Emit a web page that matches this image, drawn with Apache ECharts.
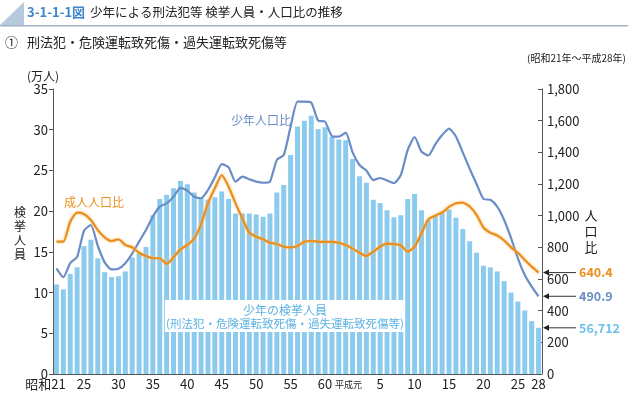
<!DOCTYPE html>
<html>
<head>
<meta charset="utf-8">
<script src="https://cdn.jsdelivr.net/npm/echarts@6/dist/echarts.min.js"></script>
<style>
html, body { margin: 0; padding: 0; background: #fff; }
#main { width: 628px; height: 396px; }
</style>
</head>
<body>
<div id="main"></div>
<script>
// 年次（昭和21年～平成28年）
const categories = [
  '昭和21','昭和22','昭和23','昭和24','昭和25','昭和26','昭和27','昭和28','昭和29','昭和30',
  '昭和31','昭和32','昭和33','昭和34','昭和35','昭和36','昭和37','昭和38','昭和39','昭和40',
  '昭和41','昭和42','昭和43','昭和44','昭和45','昭和46','昭和47','昭和48','昭和49','昭和50',
  '昭和51','昭和52','昭和53','昭和54','昭和55','昭和56','昭和57','昭和58','昭和59','昭和60',
  '昭和61','昭和62','昭和63','平成元','平成2','平成3','平成4','平成5','平成6','平成7',
  '平成8','平成9','平成10','平成11','平成12','平成13','平成14','平成15','平成16','平成17',
  '平成18','平成19','平成20','平成21','平成22','平成23','平成24','平成25','平成26','平成27',
  '平成28'
];

// 目盛りに出す年とその表示
const tickLabels = {
  '昭和21': '{f|昭和21}', '昭和25': '25', '昭和30': '30', '昭和35': '35', '昭和40': '40',
  '昭和45': '45', '昭和50': '50', '昭和55': '55', '昭和60': '60', '平成元': '{s|平成元}',
  '平成5': '5', '平成10': '10', '平成15': '15', '平成20': '20', '平成25': '25', '平成28': '28'
};

// 少年の検挙人員（万人）
const arrests = [
  11.0, 10.4, 12.3, 13.1, 15.7, 16.5, 14.2, 12.5, 11.9, 12.0,
  12.6, 14.3, 14.8, 15.6, 19.5, 21.5, 22.0, 22.8, 23.7, 23.3,
  22.3, 21.6, 21.4, 21.7, 22.4, 21.5, 19.7, 19.7, 19.7, 19.6,
  19.3, 19.7, 22.3, 23.2, 26.9, 30.4, 31.1, 31.7, 30.1, 30.3,
  29.1, 28.8, 28.7, 26.4, 24.3, 23.5, 21.4, 21.0, 20.1, 19.25,
  19.5, 21.5, 22.1, 20.1, 18.9, 19.4, 19.8, 20.2, 19.2, 17.8,
  16.3, 14.9, 13.3, 13.1, 12.6, 11.4, 10.0, 8.9, 7.8, 6.5,
  5.6712
];

// 少年人口比
const youthRate = [
  667, 611, 700, 740, 905, 941, 810, 705, 661, 665,
  700, 760, 836, 909, 994, 1057, 1078, 1120, 1175, 1158,
  1120, 1110, 1162, 1242, 1326, 1305, 1215, 1246, 1230, 1215,
  1208, 1215, 1352, 1383, 1562, 1720, 1720, 1714, 1600, 1594,
  1503, 1499, 1524, 1400, 1320, 1285, 1225, 1238, 1222, 1206,
  1257, 1415, 1497, 1404, 1380, 1450, 1509, 1550, 1500, 1400,
  1296, 1200, 1106, 1100, 1057, 973, 860, 731, 625, 552,
  490.9
];

// 成人人口比
const adultRate = [
  836, 836, 962, 1019, 1011, 973, 909, 863, 840, 851,
  815, 800, 766, 745, 731, 731, 695, 737, 787, 815,
  857, 945, 1078, 1173, 1257, 1183, 1078, 983, 892, 867,
  851, 829, 821, 804, 800, 808, 836, 840, 836, 834,
  834, 829, 815, 792, 766, 745, 773, 804, 823, 820,
  813, 773, 804, 889, 977, 1000, 1020, 1055, 1078, 1082,
  1058, 1005, 925, 892, 875, 843, 800, 766, 720, 678,
  640.4
];

const leftTicks = [0, 5, 10, 15, 20, 25, 30, 35];
const rightTicks = [0, 200, 400, 600, 800, 1000, 1200, 1400, 1600, 1800];

const FONT = '"Noto Sans CJK JP", "Noto Sans", sans-serif';
const BAR_COLOR = '#8ccbee';
const YOUTH_COLOR = '#6a8dc6';
const ADULT_COLOR = '#ea8e1c';

const gridLeft = 53, gridRight = 86, gridTop = 89, gridBottom = 22;

var myChart = echarts.init(document.getElementById('main'));

const option = {
  animation: false,
  textStyle: { fontFamily: FONT },
  grid: { left: gridLeft, right: gridRight, top: gridTop, bottom: gridBottom },
  xAxis: {
    type: 'category',
    data: categories,
    axisLine: { lineStyle: { color: '#555', width: 1 } },
    axisTick: { show: false },
    axisLabel: {
      interval: (idx, val) => tickLabels[val] !== undefined,
      formatter: val => tickLabels[val],
      color: '#222',
      fontSize: 13,
      margin: 4,
      rich: {
        f: { fontSize: 13, color: '#222', padding: [0, 22, 0, 0] },
        s: { fontSize: 9, color: '#222', padding: [2, 8, 0, 0] }
      }
    }
  },
  yAxis: [
    {
      type: 'value',
      min: leftTicks[0],
      max: leftTicks[leftTicks.length - 1],
      interval: 5,
      axisLine: { show: true, lineStyle: { color: '#555' } },
      axisTick: { show: true, length: 4, lineStyle: { color: '#555' } },
      axisLabel: { color: '#222', fontSize: 13, margin: 5 },
      splitLine: { show: false }
    },
    {
      type: 'value',
      min: rightTicks[0],
      max: rightTicks[rightTicks.length - 1],
      interval: 200,
      axisLine: { show: true, lineStyle: { color: '#555' } },
      axisTick: { show: true, inside: true, length: 4, lineStyle: { color: '#555' } },
      axisLabel: {
        color: '#222', fontSize: 13, margin: 5,
        formatter: v => v.toLocaleString('en-US')
      },
      splitLine: { show: false }
    }
  ],
  series: [
    {
      name: '少年の検挙人員',
      type: 'bar',
      yAxisIndex: 0,
      data: arrests,
      barWidth: 5,
      itemStyle: { color: BAR_COLOR },
      z: 1
    },
    {
      name: '少年人口比',
      type: 'line',
      yAxisIndex: 1,
      data: youthRate,
      symbol: 'none',
      smooth: 0.2,
      lineStyle: { color: YOUTH_COLOR, width: 2.2 },
      z: 3
    },
    {
      name: '成人人口比',
      type: 'line',
      yAxisIndex: 1,
      data: adultRate,
      symbol: 'none',
      smooth: 0.2,
      lineStyle: { color: ADULT_COLOR, width: 2.2, shadowColor: 'rgba(245,190,120,0.9)', shadowBlur: 3 },
      z: 4
    }
  ]
};

myChart.setOption(option);

// 右端の数値と矢印（最終年の値から位置を取る）
const last = categories.length - 1;
const axisX = 628 - gridRight;
const ends = [
  { y: myChart.convertToPixel({ yAxisIndex: 1 }, adultRate[last]), text: adultRate[last].toFixed(1), color: ADULT_COLOR },
  { y: myChart.convertToPixel({ yAxisIndex: 1 }, youthRate[last]), text: youthRate[last].toFixed(1), color: YOUTH_COLOR },
  { y: myChart.convertToPixel({ yAxisIndex: 0 }, arrests[last]), text: Math.round(arrests[last] * 10000).toLocaleString('en-US'), color: '#6cc0ea' }
];

const graphics = [
  // 見出し
  { type: 'polygon', shape: { points: [[0, 25], [24, 2], [24, 25]] }, style: { fill: '#b7c9dc' } },
  { type: 'rect', shape: { x: 0, y: 25, width: 628, height: 1.5 }, style: { fill: '#9fb2c6' } },
  { type: 'text', x: 27, y: 12, style: { text: '3-1-1-1図', fill: '#3f86c8', font: 'bold 13px ' + FONT, textVerticalAlign: 'middle' } },
  { type: 'text', x: 90, y: 12, style: { text: '少年による刑法犯等 検挙人員・人口比の推移', fill: '#222', font: '12.5px ' + FONT, textVerticalAlign: 'middle' } },
  { type: 'text', x: 5, y: 42, style: { text: '①', fill: '#222', font: '13px ' + FONT, textVerticalAlign: 'middle' } },
  { type: 'text', x: 27, y: 42, style: { text: '刑法犯・危険運転致死傷・過失運転致死傷等', fill: '#222', font: '13px ' + FONT, textVerticalAlign: 'middle' } },
  { type: 'text', x: 626, y: 58, style: { text: '(昭和21年～平成28年)', fill: '#222', font: '10px ' + FONT, textAlign: 'right', textVerticalAlign: 'middle' } },
  // 軸の名前
  { type: 'text', x: 27, y: 76, style: { text: '(万人)', fill: '#222', font: '12px ' + FONT, textVerticalAlign: 'middle' } },
  { type: 'text', x: 20, y: 205, style: { text: '検\n挙\n人\n員', fill: '#222', font: '12px ' + FONT, textAlign: 'center', lineHeight: 14 } },
  { type: 'text', x: 591, y: 207, style: { text: '人\n口\n比', fill: '#222', font: '13px ' + FONT, textAlign: 'center', lineHeight: 16 } },
  // 系列名
  { type: 'text', x: 231, y: 120, style: { text: '少年人口比', fill: YOUTH_COLOR, font: '12px ' + FONT, textVerticalAlign: 'middle' } },
  { type: 'text', x: 64, y: 202, style: { text: '成人人口比', fill: ADULT_COLOR, font: '12px ' + FONT, textVerticalAlign: 'middle' } },
  { type: 'rect', shape: { x: 165, y: 300, width: 239, height: 32 }, style: { fill: '#fff' }, z: 10 },
  { type: 'text', x: 285, y: 310, z: 11, style: { text: '少年の検挙人員', fill: '#5fb3e3', font: '12px ' + FONT, textAlign: 'center', textVerticalAlign: 'middle' } },
  { type: 'text', x: 285, y: 324, z: 11, style: { text: '(刑法犯・危険運転致死傷・過失運転致死傷等)', fill: '#5fb3e3', font: '11.5px ' + FONT, textAlign: 'center', textVerticalAlign: 'middle' } }
];

ends.forEach(e => {
  graphics.push({ type: 'line', shape: { x1: axisX + 4, y1: e.y, x2: axisX + 34, y2: e.y }, style: { stroke: '#333', lineWidth: 1 }, z: 10 });
  graphics.push({ type: 'polygon', shape: { points: [[axisX + 1, e.y], [axisX + 7, e.y - 3], [axisX + 7, e.y + 3]] }, style: { fill: '#222' }, z: 10 });
  graphics.push({ type: 'text', x: axisX + 37, y: e.y, z: 10, style: { text: e.text, fill: e.color, font: 'bold 12.5px ' + FONT, textVerticalAlign: 'middle' } });
});

myChart.setOption({ graphic: graphics });
</script>
</body>
</html>
